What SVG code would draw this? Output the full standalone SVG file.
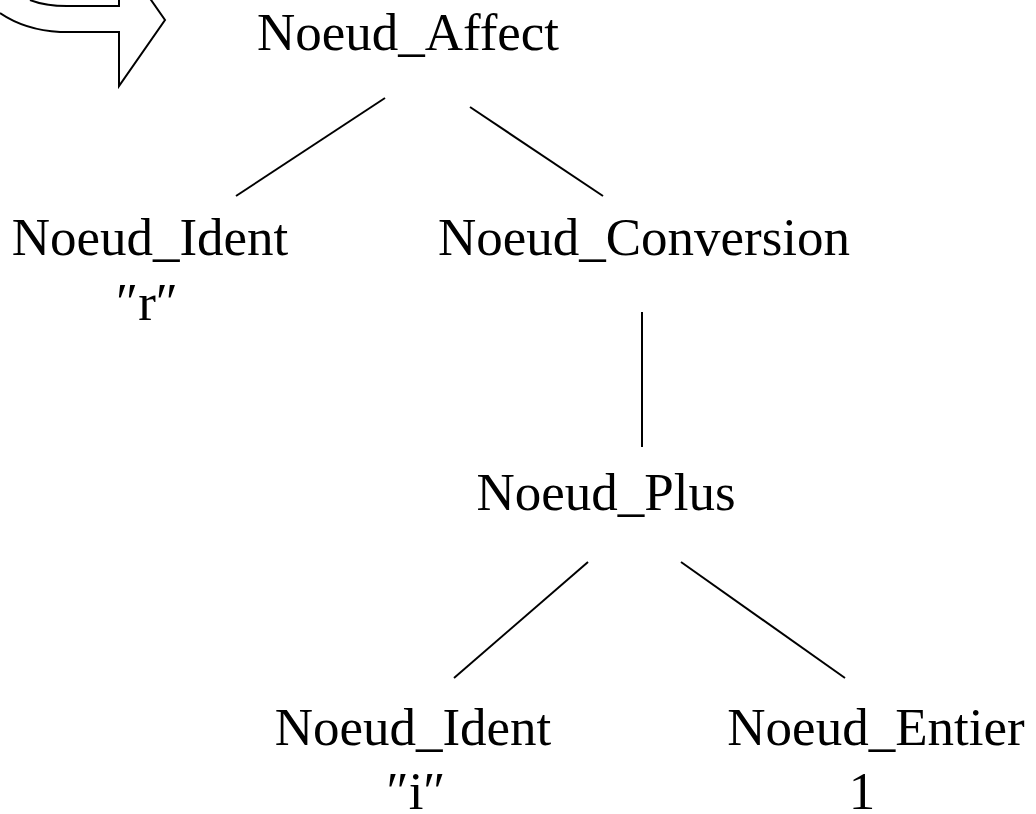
<svg xmlns="http://www.w3.org/2000/svg" width="1036" height="814" viewBox="0 0 1036 814">
  <style>
    .lbl { font-family: "Liberation Serif", "Times New Roman", serif; font-size: 53px; fill: #000; text-anchor: middle; }
    .edge { stroke: #000; stroke-width: 2; fill: none; stroke-linecap: butt; }
    .arrow { stroke: #000; stroke-width: 2; fill: #fff; stroke-linejoin: miter; }
  </style>
  <rect width="1036" height="814" fill="#fff"/>

  <!-- curved block arrow pointing at the root -->
  <g id="pointer">
    <path class="arrow" d="M 30 0 Q 45 6 67 6 L 119 6 L 119 -46 L 165 20 L 119 86 L 119 32 L 60 32 Q 25 30 0 13"/>
  </g>

  <!-- tree edges -->
  <g id="edges">
    <line class="edge" x1="385" y1="98" x2="236" y2="196"/>
    <line class="edge" x1="470" y1="107" x2="603" y2="196"/>
    <line class="edge" x1="642" y1="312" x2="642" y2="447"/>
    <line class="edge" x1="588" y1="562" x2="454" y2="678"/>
    <line class="edge" x1="681" y1="562" x2="845" y2="678"/>
  </g>

  <g id="affect">
    <text class="lbl" x="408" y="50">Noeud_Affect</text>
  </g>
  <g id="ident-r">
    <text class="lbl" x="150" y="255">Noeud_Ident</text>
    <text class="lbl" x="147" y="320">″r″</text>
  </g>
  <g id="conversion">
    <text class="lbl" x="644" y="255">Noeud_Conversion</text>
  </g>
  <g id="plus">
    <text class="lbl" x="606" y="510">Noeud_Plus</text>
  </g>
  <g id="ident-i">
    <text class="lbl" x="413" y="745">Noeud_Ident</text>
    <text class="lbl" x="416" y="809">″i″</text>
  </g>
  <g id="entier">
    <text class="lbl" x="876" y="745">Noeud_Entier</text>
    <text class="lbl" x="862" y="809">1</text>
  </g>
</svg>
